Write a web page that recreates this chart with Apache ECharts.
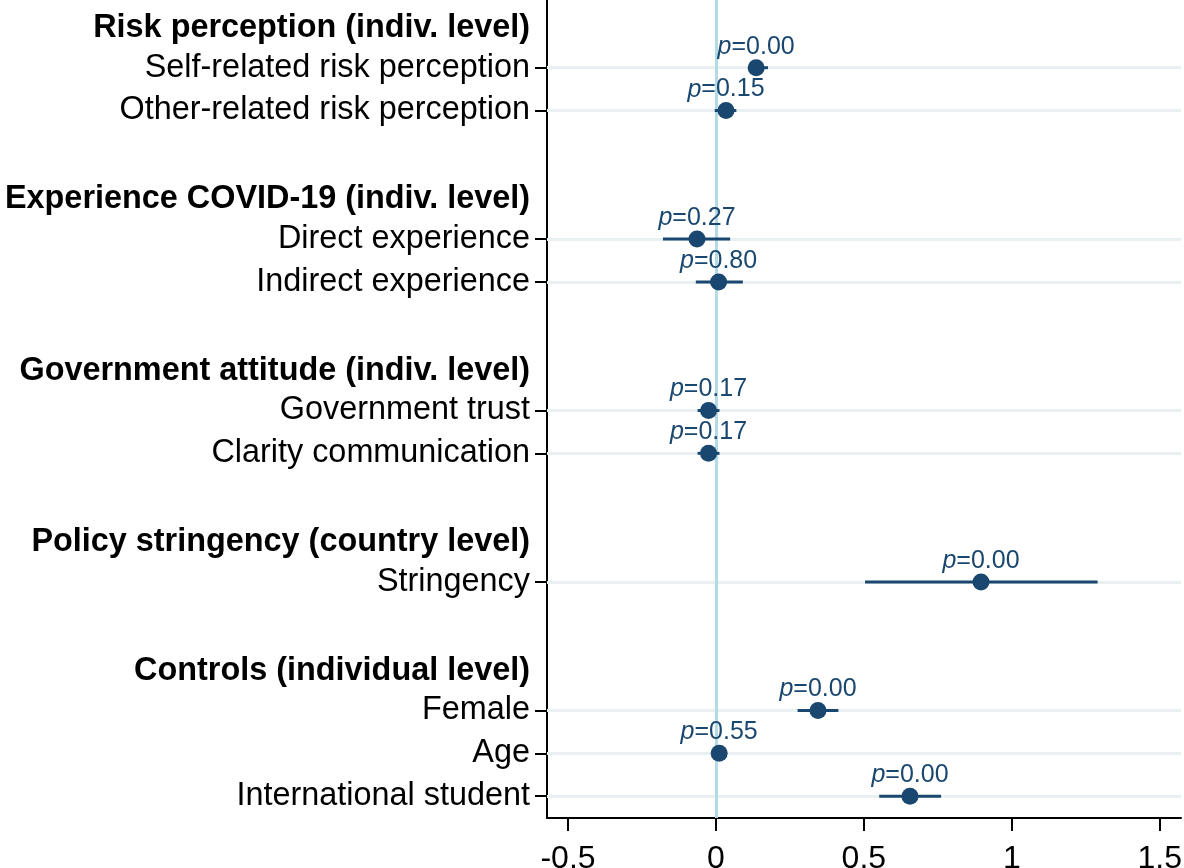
<!DOCTYPE html>
<html>
<head>
<meta charset="utf-8">
<script src="https://cdn.jsdelivr.net/npm/echarts@6.0.0/dist/echarts.min.js"></script>
<style>
  html, body { margin: 0; padding: 0; background: #fff; }
  #chart { width: 1184px; height: 868px; }
</style>
</head>
<body>
<div id="chart"></div>
<script>
// rows from top to bottom; empty strings are the gaps between groups
const rowLabels = [
    'Risk perception (indiv. level)',
    'Self-related risk perception',
    'Other-related risk perception',
    '',
    'Experience COVID-19 (indiv. level)',
    'Direct experience',
    'Indirect experience',
    '',
    'Government attitude (indiv. level)',
    'Government trust',
    'Clarity communication',
    '',
    'Policy stringency (country level)',
    'Stringency',
    '',
    'Controls (individual level)',
    'Female',
    'Age',
    'International student'
];
const headerRows = [0, 4, 8, 12, 15];
const itemRows = [1, 2, 5, 6, 9, 10, 13, 16, 17, 18];

// coefficients, 95% CI and p-values, one per item row
const estimates = [0.136, 0.034, -0.064, 0.009, -0.025, -0.025, 0.896, 0.345, 0.011, 0.656];
const ciLow = [0.111, -0.004, -0.179, -0.068, -0.062, -0.062, 0.504, 0.276, -0.012, 0.552];
const ciHigh = [0.176, 0.069, 0.048, 0.091, 0.012, 0.012, 1.290, 0.414, 0.034, 0.761];
const pValues = ['0.00', '0.15', '0.27', '0.80', '0.17', '0.17', '0.00', '0.00', '0.55', '0.00'];

const xTicks = [-0.5, 0, 0.5, 1, 1.5];

const navy = '#1a476f';
const font = '"Liberation Sans", Arial, Helvetica, sans-serif';

const chart = echarts.init(document.getElementById('chart'));

const option = {
    backgroundColor: '#fff',
    animation: false,
    textStyle: { fontFamily: font },
    grid: { left: 547, right: 3, top: 0, bottom: 50, containLabel: false, outerBoundsMode: 'none' },
    xAxis: {
        type: 'value',
        min: -0.571,
        max: 1.572,
        axisLine: { show: true, onZero: false, lineStyle: { color: '#000', width: 2 } },
        axisTick: { show: true, customValues: xTicks, length: 13, lineStyle: { color: '#000', width: 2 } },
        axisLabel: {
            customValues: xTicks,
            fontSize: 32,
            color: '#000',
            fontFamily: font,
            margin: 25,
            formatter: (v) => String(v)
        },
        splitLine: { show: false }
    },
    yAxis: {
        type: 'value',
        inverse: true,
        min: -0.58,
        max: 18.51,
        axisLine: { show: true, onZero: false, lineStyle: { color: '#000', width: 2 } },
        axisTick: { show: true, customValues: itemRows, length: 12, lineStyle: { color: '#000', width: 2 } },
        axisLabel: {
            customValues: rowLabels.map((_, i) => i),
            fontSize: 32.4,
            color: '#000',
            fontFamily: font,
            margin: 17,
            formatter: (v) => {
                const txt = rowLabels[v] || '';
                if (!txt) return '';
                return headerRows.includes(v) ? '{h|' + txt + '}' : txt;
            },
            rich: {
                h: { fontSize: 32.4, fontWeight: 'bold', color: '#000', fontFamily: font, padding: [6, 0, 0, 0] }
            }
        },
        splitLine: { show: false }
    },
    series: [
        {
            // light row lines at the item rows
            type: 'line',
            data: [],
            silent: true,
            z: 1,
            markLine: {
                silent: true,
                z: 1,
                symbol: 'none',
                label: { show: false },
                lineStyle: { color: '#e8f0f2', width: 3, type: 'solid' },
                data: itemRows.map(r => ({ yAxis: r }))
            }
        },
        {
            // zero reference line
            type: 'line',
            data: [],
            silent: true,
            z: 2,
            markLine: {
                silent: true,
                z: 2,
                symbol: 'none',
                label: { show: false },
                lineStyle: { color: '#b2dbe6', width: 3, type: 'solid' },
                data: [{ xAxis: 0 }]
            }
        },
        {
            // confidence intervals
            type: 'custom',
            z: 3,
            data: itemRows.map((r, i) => [ciLow[i], ciHigh[i], r]),
            encode: { x: [0, 1], y: 2 },
            renderItem: (params, api) => {
                const a = api.coord([api.value(0), api.value(2)]);
                const b = api.coord([api.value(1), api.value(2)]);
                return {
                    type: 'line',
                    shape: { x1: a[0], y1: a[1], x2: b[0], y2: b[1] },
                    style: { stroke: navy, lineWidth: 3 }
                };
            }
        },
        {
            type: 'scatter',
            z: 4,
            symbol: 'circle',
            symbolSize: 17,
            itemStyle: { color: navy, opacity: 1 },
            data: itemRows.map((r, i) => [estimates[i], r, pValues[i]]),
            label: {
                show: true,
                position: 'top',
                distance: 0,
                fontSize: 25,
                color: navy,
                fontFamily: font,
                formatter: (p) => '{i|p}=' + p.value[2],
                rich: {
                    i: { fontStyle: 'italic', fontSize: 25, color: navy, fontFamily: font }
                }
            }
        }
    ]
};

chart.setOption(option);
</script>
</body>
</html>
